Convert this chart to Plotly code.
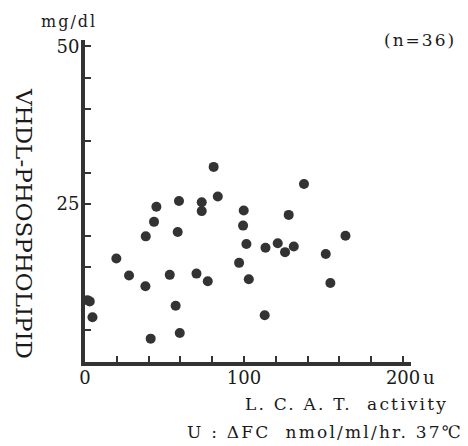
import plotly.graph_objects as go

# L.C.A.T. activity (u) vs VHDL-phospholipid (mg/dl), n=36
lcat = [44.9, 59.1, 43.4, 58.3, 38.2, 19.7, 27.7, 53.3, 38.0, 1.5, 3.0, 57.0,
        4.7, 59.6, 41.3, 80.9, 73.4, 83.5, 73.4, 99.8, 128.1, 99.4, 101.5, 113.5,
        121.2, 125.8, 131.3, 96.9, 70.1, 77.2, 103.0, 113.0, 137.7, 163.8, 151.4, 154.3]
vhdl_pl = [24.6, 25.5, 22.2, 20.6, 19.9, 16.4, 13.7, 13.8, 12.0, 9.8, 9.6, 8.9,
           7.1, 4.6, 3.7, 30.9, 25.3, 26.2, 23.9, 24.0, 23.3, 21.6, 18.7, 18.1,
           18.8, 17.4, 18.3, 15.7, 14.0, 12.8, 13.1, 7.4, 28.2, 20.0, 17.1, 12.5]

x_ticks = list(range(0, 201, 20))
x_labels = ["0", "", "", "", "", "100", "", "", "", "", "200"]
y_ticks = list(range(0, 51, 5))
y_labels = ["", "", "", "", "", "25", "", "", "", "", "50"]

ink = "#333333"
font = "DejaVu Serif"

# page body has an 8px margin, so the figure is 8px smaller and shifted up/left
fig = go.Figure()
fig.add_trace(go.Scatter(
    x=lcat, y=vhdl_pl, mode="markers",
    marker=dict(size=10, color=ink),
    cliponaxis=False, showlegend=False))

fig.update_layout(
    width=460, height=438,
    margin=dict(l=77, r=57, t=32, b=84),
    plot_bgcolor="white", paper_bgcolor="white",
    font=dict(family=font, size=18, color="#1a1a1a"),
    xaxis=dict(range=[0, 205], showgrid=False, zeroline=False,
               showline=True, linewidth=4, linecolor=ink,
               ticks="inside", ticklen=6, tickwidth=2, tickcolor=ink,
               tickvals=x_ticks, ticktext=x_labels, ticklabelstandoff=-4),
    yaxis=dict(range=[0, 51], showgrid=False, zeroline=False,
               showline=True, linewidth=4, linecolor=ink,
               ticks="inside", ticklen=6, tickwidth=2, tickcolor=ink,
               tickvals=y_ticks, ticktext=y_labels, ticklabelstandoff=-2),
)

# positions in plot-area fractions (plot area: 326 x 322 px, bottom-left at 85,362 in ref)
def px(x):
    return (x - 85) / 326

def py(y):
    return (362 - y) / 322

def spaced(s, ls):
    return f'<span style="letter-spacing:{ls}px">{s}</span>'

ann = dict(xref="paper", yref="paper", showarrow=False,
           xanchor="center", yanchor="middle")
fig.add_annotation(text="u", x=px(429), y=py(377), **ann)
fig.add_annotation(text=spaced("mg/dl", 2), x=px(69), y=py(21), font=dict(size=16), **ann)
fig.add_annotation(text=spaced("(n=36)", 2), x=px(420), y=py(40), font=dict(size=17), **ann)
fig.add_annotation(text="VHDL-PHOSPHOLIPID", x=px(24), y=py(223), textangle=90,
                   font=dict(size=23), **ann)
fig.add_annotation(text=spaced("L. C. A. T.\u00a0 activity", 2.2), x=px(346), y=py(404),
                   font=dict(size=17), **ann)
fig.add_annotation(text=spaced("U : ΔFC\u00a0 nmol/ml/hr. 37℃", 2.2), x=px(325), y=py(432),
                   font=dict(size=17), **ann)

fig.write_html("out.html")
